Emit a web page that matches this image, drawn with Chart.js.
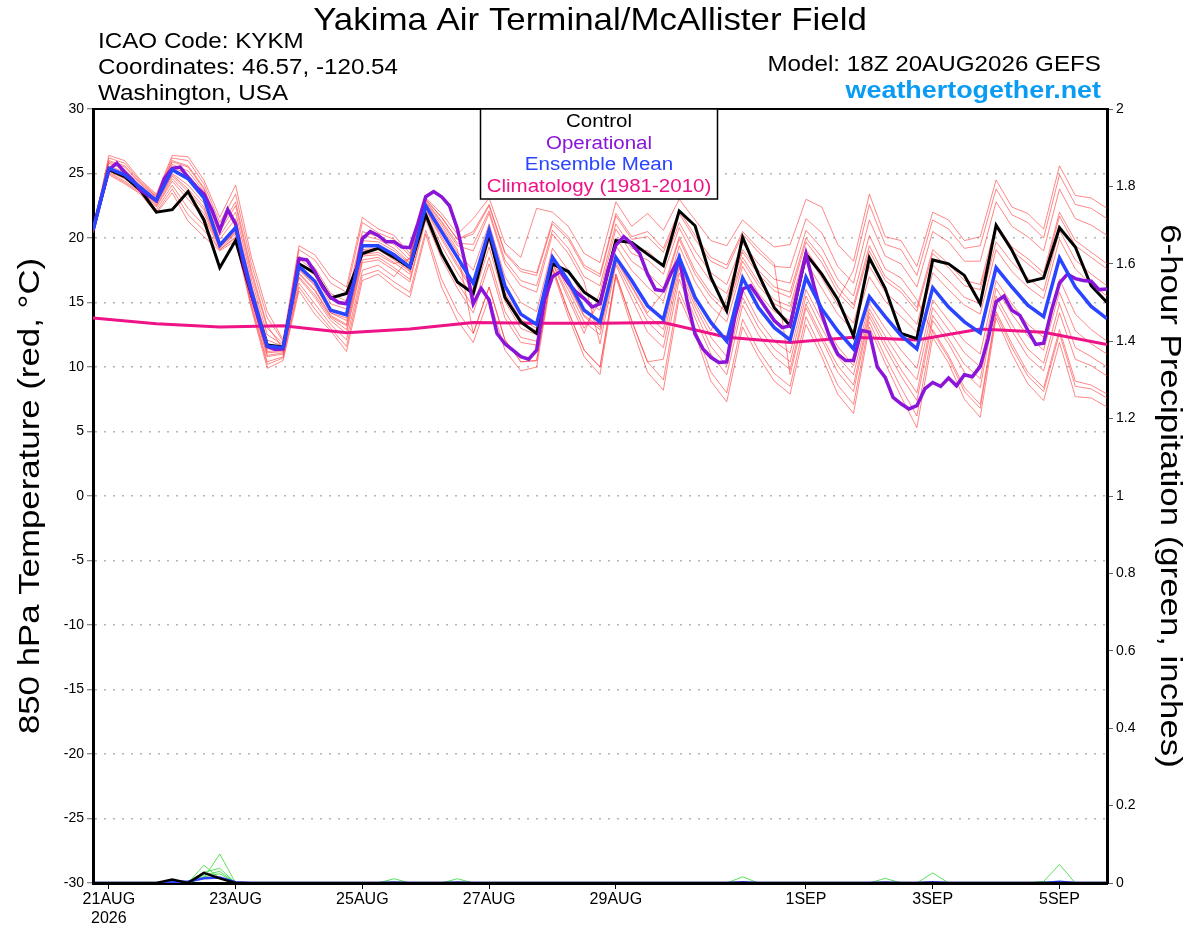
<!DOCTYPE html>
<html>
<head>
<meta charset="utf-8">
<title>Yakima GEFS meteogram</title>
<script src="https://cdn.jsdelivr.net/npm/chart.js@4.4.1/dist/chart.umd.min.js"></script>
<style>
  html, body { margin: 0; padding: 0; background: #fff; }
  #wrap { width: 1200px; height: 927px; position: relative; }
</style>
</head>
<body>
<div id="wrap"><canvas id="meteogram" width="1200" height="927"></canvas></div>
<script>
/* ================= DATA ================= */

// x axis: hours after 18Z 20AUG2026
const xTickHours  = [6, 54, 102, 150, 198, 270, 318, 366];
const xTickLabels = [['21AUG', '2026'], '23AUG', '25AUG', '27AUG', '29AUG', '1SEP', '3SEP', '5SEP'];

// 850 hPa temperature, 6-hourly (65 values)
const control = [20.6, 25.3, 24.75, 23.7, 22.0, 22.2, 23.6, 21.4, 17.7, 19.8, 15.6, 11.7, 11.55, 18.0, 17.3, 15.35,
  15.7, 18.8, 19.2, 18.5, 17.7, 21.8, 18.8, 16.6, 15.7, 20.3, 15.4, 13.5, 12.6, 18.0, 17.4, 15.8,
  15.0, 19.8, 19.65, 18.75, 17.85, 22.1, 20.95, 16.95, 14.35, 20.05, 17.2, 14.6, 13.2, 18.75, 17.2, 15.25,
  12.4, 18.45, 16.1, 12.6, 12.2, 18.3, 18.0, 17.1, 14.9, 21.0, 19.05, 16.6, 16.9, 20.8, 19.3, 16.3, 15.0];

const ensMean = [20.6, 25.4, 24.9, 23.9, 22.9, 25.3, 24.6, 23.1, 19.45, 20.8, 15.9, 11.6, 11.5, 17.8, 16.65, 14.4,
  14.05, 19.4, 19.4, 18.7, 17.75, 22.5, 20.5, 18.5, 16.5, 20.6, 16.3, 14.1, 13.3, 18.5, 16.7, 14.4,
  13.5, 18.5, 16.7, 14.75, 13.7, 18.5, 15.4, 13.45, 12.0, 16.9, 14.6, 13.05, 12.1, 16.95, 14.5, 12.8,
  11.4, 15.45, 13.9, 12.45, 11.4, 16.15, 14.65, 13.5, 12.65, 17.7, 16.2, 14.8, 13.9, 18.45, 16.2, 14.7, 13.75];

// operational run, 3-hourly (129 values)
const operational = [20.6, 23.0, 25.3, 25.8, 25.1, 24.5, 23.7, 23.3, 22.9, 24.6, 25.4, 25.5, 24.7, 24.0, 23.4, 22.2,
  20.6, 22.2, 21.1, 18.0, 15.7, 13.5, 11.6, 11.35, 11.4, 14.7, 18.4, 18.3, 17.4, 16.2, 15.4, 15.0,
  14.9, 16.7, 19.95, 20.5, 20.2, 19.7, 19.7, 19.3, 19.25, 21.1, 23.2, 23.6, 23.2, 22.5, 20.7, 18.0,
  14.9, 16.1, 15.2, 12.6, 11.8, 11.3, 10.8, 10.6, 11.3, 15.2, 17.0, 17.4, 16.5, 15.8, 15.3, 14.65,
  14.9, 17.5, 19.45, 20.1, 19.55, 18.8, 17.2, 16.0, 15.9, 17.3, 18.45, 15.1, 12.55, 11.4, 10.75, 10.35,
  10.4, 13.85, 16.05, 16.3, 15.4, 14.5, 13.6, 13.05, 13.2, 16.05, 18.75, 16.3, 14.1, 12.3, 11.0, 10.5,
  10.5, 12.85, 12.7, 10.0, 9.2, 7.65, 7.15, 6.75, 7.0, 8.3, 8.8, 8.5, 9.15, 8.55, 9.4, 9.25,
  10.05, 12.2, 15.05, 15.5, 14.4, 14.0, 12.85, 11.75, 11.85, 14.4, 16.5, 17.2, 16.85, 16.7, 16.65, 16.0, 16.05];

// 1981-2010 climatology, daily (17 values)
const climatology = [13.8, 13.35, 13.1, 13.2, 12.65, 12.95, 13.45, 13.4, 13.4, 13.45, 12.3, 11.9, 12.3, 12.1, 12.95, 12.7, 11.75];

// ensemble members, 6-hourly
const member01 = [20.5, 26.4, 26.0, 24.5, 23.4, 26.4, 26.3, 24.5, 21.6, 24.1, 18.5, 14.3, 12.1, 19.4, 18.7, 17.0,
  16.2, 21.6, 20.7, 20.2, 18.8, 23.1, 21.9, 20.3, 21.5, 23.1, 19.6, 18.5, 22.3, 22.0, 20.9, 18.8,
  18.1, 22.8, 20.9, 21.9, 20.6, 23.0, 21.4, 19.8, 19.4, 21.4, 20.3, 19.3, 19.5, 23.0, 22.4, 19.5,
  18.2, 23.4, 20.1, 19.8, 17.8, 22.0, 21.4, 19.8, 20.1, 24.5, 22.4, 21.9, 20.7, 25.6, 23.3, 23.1, 22.3];
const member02 = [20.5, 24.9, 24.2, 23.4, 21.9, 23.5, 21.3, 20.1, 19.0, 19.8, 14.5, 9.9, 10.5, 15.9, 14.1, 12.8,
  11.2, 16.7, 17.2, 16.2, 15.4, 20.3, 16.2, 13.6, 11.9, 15.4, 11.3, 9.7, 10.0, 17.5, 13.9, 10.8,
  9.4, 17.0, 13.1, 9.6, 8.2, 15.4, 12.6, 8.9, 7.3, 13.1, 10.8, 8.9, 7.9, 13.3, 10.8, 7.9,
  6.4, 13.1, 10.3, 7.7, 5.3, 12.3, 10.3, 7.5, 6.1, 13.8, 11.0, 8.7, 7.4, 11.9, 7.7, 7.6, 6.9];
const member03 = [20.6, 25.9, 25.5, 24.2, 23.2, 25.9, 25.5, 23.8, 20.5, 22.5, 17.2, 13.0, 11.8, 18.6, 17.7, 15.7,
  15.1, 20.5, 20.1, 19.5, 18.3, 22.8, 21.2, 19.4, 19.0, 21.9, 18.0, 16.3, 15.8, 20.3, 18.8, 16.6,
  11.8, 17.9, 15.3, 12.7, 11.5, 17.3, 14.3, 11.6, 10.1, 15.4, 13.1, 11.4, 10.4, 15.5, 13.0, 10.8,
  9.4, 14.5, 12.4, 10.5, 9.0, 14.6, 12.9, 11.1, 10.0, 16.1, 14.1, 12.4, 11.3, 15.8, 12.8, 11.8, 11.0];
const member04 = [20.4, 25.2, 24.6, 23.7, 22.4, 24.4, 23.0, 21.6, 19.2, 20.3, 15.2, 10.8, 11.0, 16.9, 15.4, 13.6,
  12.6, 18.1, 18.3, 17.5, 16.6, 21.4, 18.4, 16.1, 14.2, 18.0, 13.8, 11.9, 11.7, 18.0, 15.3, 12.6,
  15.8, 20.7, 18.8, 18.3, 17.2, 20.8, 18.4, 16.6, 15.7, 19.1, 17.5, 16.2, 15.8, 20.0, 18.5, 16.2,
  14.8, 19.4, 17.0, 16.1, 14.6, 19.1, 18.0, 16.7, 16.4, 21.1, 19.3, 18.4, 17.3, 22.0, 19.8, 18.9, 18.0];
const member05 = [20.6, 25.6, 25.1, 24.0, 23.0, 25.5, 24.9, 23.4, 19.9, 21.5, 16.4, 12.1, 11.6, 18.1, 17.1, 14.9,
  14.5, 19.8, 19.7, 19.0, 18.0, 22.6, 20.8, 18.9, 17.5, 21.1, 17.0, 15.0, 14.3, 19.2, 17.5, 15.3,
  14.4, 19.4, 17.5, 16.2, 15.1, 19.4, 16.6, 14.7, 13.5, 17.8, 15.7, 14.3, 13.6, 18.2, 16.1, 14.1,
  12.8, 17.0, 15.1, 13.9, 12.7, 17.3, 16.0, 14.8, 14.1, 19.1, 17.4, 16.2, 15.3, 19.9, 17.6, 16.4, 15.5];
const member06 = [20.5, 25.3, 24.7, 23.8, 22.7, 24.9, 23.8, 22.4, 19.3, 20.6, 15.6, 11.2, 11.3, 17.3, 16.0, 14.0,
  13.3, 18.7, 18.9, 18.1, 17.2, 22.0, 19.4, 17.3, 15.4, 19.3, 15.1, 13.0, 12.5, 18.3, 16.0, 13.5,
  12.5, 18.1, 15.8, 13.5, 12.3, 17.7, 14.7, 12.3, 10.8, 16.0, 13.6, 12.0, 11.1, 16.0, 13.6, 11.6,
  10.1, 14.9, 13.0, 11.3, 9.9, 15.2, 13.6, 12.0, 11.0, 16.7, 14.9, 13.3, 12.3, 16.8, 14.1, 12.9, 12.0];
const member07 = [20.5, 25.1, 24.4, 23.6, 22.2, 24.1, 22.3, 21.0, 19.1, 20.1, 14.9, 10.4, 10.8, 16.5, 14.9, 13.3,
  12.1, 17.5, 17.9, 17.0, 18.5, 23.0, 21.6, 19.9, 20.3, 22.5, 18.8, 17.4, 17.1, 21.1, 19.9, 17.7,
  17.0, 21.7, 19.9, 20.1, 18.9, 21.9, 19.9, 18.2, 17.6, 20.3, 18.9, 17.8, 17.7, 21.5, 20.4, 17.8,
  16.5, 21.4, 18.6, 18.0, 16.2, 20.5, 19.7, 18.2, 18.2, 22.8, 20.9, 20.1, 19.0, 23.8, 21.5, 21.0, 20.2];
const member08 = [20.7, 26.2, 25.8, 24.4, 23.3, 26.2, 26.0, 24.2, 21.2, 23.4, 18.0, 13.8, 12.0, 19.1, 18.3, 16.5,
  15.8, 21.2, 20.4, 19.9, 18.6, 23.0, 21.6, 19.9, 20.5, 22.6, 18.9, 17.6, 17.3, 21.3, 20.1, 17.9,
  17.2, 21.9, 20.1, 20.5, 19.2, 22.1, 20.2, 18.5, 17.9, 20.5, 19.2, 18.0, 9.4, 14.6, 12.1, 9.6,
  8.1, 13.9, 11.5, 9.3, 7.4, 13.6, 11.8, 9.6, 8.4, 15.1, 12.8, 10.8, 9.7, 14.2, 10.6, 10.1, 9.3];
const member09 = [20.6, 25.8, 25.3, 24.1, 23.1, 25.7, 25.2, 23.6, 20.2, 22.0, 16.8, 12.5, 11.7, 18.4, 17.4, 15.3,
  14.8, 20.2, 19.9, 19.2, 18.1, 22.7, 21.0, 19.1, 12.6, 16.2, 12.1, 10.4, 10.5, 17.7, 14.3, 11.3,
  10.0, 17.2, 13.6, 10.4, 9.0, 15.9, 13.0, 9.6, 8.0, 13.7, 11.3, 9.5, 8.5, 13.9, 11.3, 8.6,
  7.1, 13.5, 10.8, 8.4, 6.2, 12.9, 10.9, 8.4, 7.1, 14.3, 11.8, 9.6, 8.4, 12.9, 8.9, 8.6, 7.9];
const member10 = [20.6, 25.3, 24.8, 23.8, 22.8, 25.0, 24.1, 22.7, 19.4, 20.7, 15.7, 11.4, 11.4, 17.5, 16.3, 14.2,
  13.6, 19.0, 19.1, 18.3, 17.4, 22.2, 19.9, 17.8, 15.8, 19.8, 15.6, 13.4, 12.8, 18.4, 16.3, 13.9,
  12.9, 18.3, 16.2, 14.0, 12.9, 18.0, 15.0, 12.8, 15.3, 18.9, 17.2, 15.9, 15.4, 19.7, 18.1, 15.8,
  14.5, 19.0, 16.7, 15.8, 14.3, 18.8, 17.7, 16.3, 16.0, 20.8, 19.0, 18.0, 17.0, 21.7, 19.4, 18.5, 17.6];
const member11 = [20.5, 25.2, 24.6, 23.7, 22.5, 24.6, 23.3, 21.9, 19.3, 20.4, 15.3, 10.9, 11.1, 17.0, 15.6, 13.8,
  12.9, 18.3, 18.5, 17.7, 16.8, 21.6, 18.8, 16.5, 14.7, 18.5, 14.3, 12.3, 12.0, 18.1, 15.6, 13.0,
  15.1, 20.0, 18.2, 17.3, 16.1, 20.1, 17.5, 15.7, 14.6, 18.5, 16.6, 15.2, 14.7, 19.1, 17.3, 15.2,
  17.5, 22.6, 19.5, 19.1, 17.1, 21.4, 20.7, 19.2, 19.4, 23.8, 21.8, 21.2, 20.0, 24.9, 22.6, 22.3, 21.5];
const member12 = [20.6, 26.0, 25.6, 24.3, 23.2, 26.0, 25.6, 23.9, 20.7, 22.8, 17.5, 13.2, 11.4, 17.6, 16.4, 14.2,
  13.8, 19.1, 19.2, 18.5, 17.5, 22.3, 20.1, 18.0, 16.0, 20.1, 15.8, 13.7, 13.0, 18.4, 16.4, 14.0,
  13.1, 18.4, 16.3, 14.2, 15.8, 19.9, 17.2, 15.4, 14.2, 18.2, 16.3, 14.9, 14.3, 18.8, 16.9, 14.8,
  13.4, 17.8, 15.8, 14.7, 13.3, 17.9, 16.7, 15.4, 14.9, 19.7, 18.1, 16.9, 15.9, 20.6, 18.3, 17.2, 16.3];
const member13 = [20.4, 25.0, 24.3, 23.5, 22.0, 23.8, 21.8, 20.6, 19.1, 20.0, 14.7, 10.2, 10.7, 16.2, 14.5, 13.0,
  11.6, 17.1, 17.5, 16.6, 15.8, 20.6, 16.8, 14.3, 12.6, 16.2, 12.1, 10.4, 10.5, 17.7, 14.3, 11.3,
  10.0, 17.2, 13.6, 10.4, 10.6, 16.8, 13.8, 11.0, 9.4, 14.8, 12.5, 10.8, 9.8, 14.9, 12.4, 10.1,
  8.6, 14.2, 11.9, 9.8, 8.0, 14.0, 12.2, 10.2, 9.1, 15.5, 13.3, 11.4, 10.3, 14.9, 11.5, 10.8, 10.0];
const member14 = [20.5, 25.3, 24.7, 23.8, 22.6, 24.8, 23.6, 22.2, 19.3, 20.5, 15.5, 11.1, 11.2, 17.2, 15.9, 13.9,
  13.2, 18.6, 18.7, 18.0, 18.4, 22.9, 21.3, 19.6, 19.5, 22.1, 18.3, 16.7, 16.3, 20.6, 19.2, 17.0,
  16.3, 21.1, 19.2, 19.0, 17.8, 21.2, 19.0, 17.3, 16.4, 19.6, 18.0, 16.8, 16.5, 20.6, 19.2, 16.8,
  15.5, 20.2, 17.6, 16.9, 15.2, 12.7, 10.7, 8.1, 6.8, 14.1, 11.5, 9.3, 8.1, 12.6, 8.5, 8.3, 7.6];

// 6-hour precipitation (inches), 6-hourly
const ctrlPrecip = [0, 0, 0, 0, 0, 0.009, 0, 0.026, 0.012, 0, 0, 0, 0, 0, 0, 0,
  0, 0, 0, 0, 0, 0, 0, 0, 0, 0, 0, 0, 0, 0, 0, 0,
  0, 0, 0, 0, 0, 0, 0, 0, 0, 0, 0, 0, 0, 0, 0, 0,
  0, 0, 0, 0, 0, 0, 0, 0, 0, 0, 0, 0, 0, 0, 0, 0, 0];
const meanPrecip = [0, 0, 0, 0, 0, 0.002, 0.004, 0.012, 0.014, 0.002, 0, 0, 0, 0, 0, 0,
  0, 0, 0, 0.001, 0, 0, 0, 0.001, 0, 0, 0, 0, 0, 0, 0, 0,
  0, 0, 0, 0, 0, 0, 0, 0, 0, 0.002, 0, 0, 0, 0, 0, 0,
  0, 0, 0.001, 0, 0, 0.002, 0, 0, 0, 0, 0, 0, 0, 0.003, 0, 0, 0];
const precipMember1 = [0, 0, 0, 0, 0, 0, 0, 0.046, 0.012, 0, 0, 0, 0, 0, 0, 0,
  0, 0, 0, 0, 0, 0, 0, 0, 0, 0, 0, 0, 0, 0, 0, 0,
  0, 0, 0, 0, 0, 0, 0, 0, 0, 0.016, 0, 0, 0, 0, 0, 0,
  0, 0, 0, 0, 0, 0, 0, 0, 0, 0, 0, 0, 0, 0, 0, 0, 0];
const precipMember2 = [0, 0, 0, 0, 0, 0, 0, 0.012, 0.075, 0, 0, 0, 0, 0, 0, 0,
  0, 0, 0, 0, 0, 0, 0, 0, 0, 0, 0, 0, 0, 0, 0, 0,
  0, 0, 0, 0, 0, 0, 0, 0, 0, 0, 0, 0, 0, 0, 0, 0,
  0, 0, 0, 0, 0, 0, 0, 0, 0, 0, 0, 0, 0.004, 0.048, 0, 0, 0];
const precipMember3 = [0, 0, 0, 0, 0, 0, 0.004, 0.028, 0.038, 0, 0, 0, 0, 0, 0, 0,
  0, 0, 0, 0, 0, 0, 0, 0, 0, 0, 0, 0, 0, 0, 0, 0,
  0, 0, 0, 0, 0, 0, 0, 0, 0, 0, 0, 0, 0, 0, 0, 0,
  0, 0, 0, 0, 0, 0.026, 0, 0, 0, 0, 0, 0, 0, 0, 0, 0, 0];
const precipMember4 = [0, 0, 0, 0, 0, 0, 0, 0.02, 0.03, 0, 0, 0, 0, 0, 0, 0,
  0, 0, 0, 0.011, 0, 0, 0, 0, 0, 0, 0, 0, 0, 0, 0, 0,
  0, 0, 0, 0, 0, 0, 0, 0, 0, 0, 0, 0, 0, 0, 0, 0,
  0, 0, 0.012, 0, 0, 0, 0, 0, 0, 0, 0, 0, 0, 0, 0, 0, 0];
const precipMember5 = [0, 0, 0, 0, 0, 0, 0, 0.016, 0.024, 0, 0, 0, 0, 0, 0, 0,
  0, 0, 0, 0, 0, 0, 0, 0.011, 0, 0, 0, 0, 0, 0, 0, 0,
  0, 0, 0, 0, 0, 0, 0, 0, 0, 0, 0, 0, 0, 0, 0, 0,
  0, 0, 0, 0, 0, 0, 0, 0, 0, 0, 0, 0, 0.003, 0, 0, 0, 0];

/* ================= HELPERS ================= */

const FONT = '"Liberation Sans", Arial, Helvetica, sans-serif';

// pair values with their forecast hour
const withHours = (vals, step) => vals.map((v, i) => ({ x: i * step, y: v }));

const line = (label, vals, step, color, width, order, axis) => ({
  label,
  data: withHours(vals, step),
  borderColor: color,
  borderWidth: width,
  pointRadius: 0,
  tension: 0,
  fill: false,
  order,
  yAxisID: axis || 'y'
});

const members = [member01, member02, member03, member04, member05, member06, member07,
  member08, member09, member10, member11, member12, member13, member14];
const precipMembers = [precipMember1, precipMember2, precipMember3, precipMember4, precipMember5];

// the original's type is a touch wider than Liberation Sans, so stretch it a little
function text(ctx, str, x, y, font, color, align, stretch, rot) {
  ctx.save();
  ctx.translate(x, y);
  if (rot) ctx.rotate(rot);
  ctx.scale(stretch || 1, 1);
  ctx.font = font;
  ctx.fillStyle = color;
  ctx.textAlign = align;
  ctx.fillText(str, 0, 0);
  ctx.restore();
}

/* ================= DECORATION PLUGIN ================= */

const decor = {
  id: 'decor',
  afterDraw(chart) {
    const { ctx, chartArea: a } = chart;
    const midY = (a.top + a.bottom) / 2;
    ctx.save();
    ctx.textBaseline = 'alphabetic';

    // top frame line
    ctx.strokeStyle = '#000';
    ctx.lineWidth = 2;
    ctx.beginPath();
    ctx.moveTo(a.left, a.top);
    ctx.lineTo(a.right, a.top);
    ctx.stroke();

    text(ctx, 'Yakima Air Terminal/McAllister Field', 590, 30, '32px ' + FONT, '#000', 'center', 1.09);

    text(ctx, 'ICAO Code: KYKM', 98, 48, '22px ' + FONT, '#000', 'left', 1.1);
    text(ctx, 'Coordinates: 46.57, -120.54', 98, 74, '22px ' + FONT, '#000', 'left', 1.1);
    text(ctx, 'Washington, USA', 98, 100, '22px ' + FONT, '#000', 'left', 1.1);

    text(ctx, 'Model: 18Z 20AUG2026 GEFS', 1101, 71, '22px ' + FONT, '#000', 'right', 1.1);
    text(ctx, 'weathertogether.net', 1101, 98, 'bold 24px ' + FONT, '#0a9cf5', 'right', 1.12);

    // legend box
    ctx.fillStyle = '#fff';
    ctx.fillRect(480, a.top, 238, 90);
    ctx.strokeStyle = '#000';
    ctx.lineWidth = 1.5;
    ctx.strokeRect(480.5, a.top, 237, 90);
    const legend = [['Control', '#000'], ['Operational', '#8a14d8'], ['Ensemble Mean', '#2a44ff'], ['Climatology (1981-2010)', '#ee1487']];
    legend.forEach(([txt, col], i) => {
      text(ctx, txt, 599, 127 + i * 21.7, '18px ' + FONT, col, 'center', 1.14);
    });

    // axis titles
    ctx.textBaseline = 'middle';
    text(ctx, '850 hPa Temperature (red, \u00B0C)', 31, midY, '30px ' + FONT, '#000', 'center', 1.16, -Math.PI / 2);
    text(ctx, '6-hour Precipitation (green, inches)', 1169, midY, '30px ' + FONT, '#000', 'center', 1.16, Math.PI / 2);

    ctx.restore();
  }
};

/* ================= CHART ================= */

const datasets = [
  line('Ensemble Mean', ensMean, 6, '#2a44ff', 3.5, 1),
  line('Operational', operational, 3, '#8a14d8', 3.5, 2),
  line('Control', control, 6, '#000000', 3, 3),
  line('Climatology', climatology, 24, '#ee1487', 3, 4),
  line('Control precip', ctrlPrecip, 6, '#000000', 2.5, 5, 'y2'),
  line('Mean precip', meanPrecip, 6, '#2a44ff', 2.5, 5, 'y2'),
  ...precipMembers.map((p, i) => line('Precip member ' + (i + 1), p, 6, 'rgba(40,215,40,0.85)', 0.9, 6, 'y2')),
  ...members.map((m, i) => line('Member ' + (i + 1), m, 6, 'rgba(255,60,60,0.72)', 0.85, 7))
];

new Chart(document.getElementById('meteogram'), {
  type: 'line',
  data: { datasets },
  options: {
    responsive: false,
    animation: false,
    devicePixelRatio: 1,
    layout: { padding: { top: 109, left: 0, right: 0, bottom: 0 } },
    plugins: { legend: { display: false }, tooltip: { enabled: false }, title: { display: false } },
    scales: {
      x: {
        type: 'linear',
        min: 0,
        max: 384,
        afterBuildTicks: s => { s.ticks = xTickHours.map(v => ({ value: v })); },
        afterFit: s => { s.height = 44; },
        ticks: {
          autoSkip: false,
          maxRotation: 0,
          padding: 1,
          color: '#000',
          font: { family: FONT, size: 16 },
          callback: v => xTickLabels[xTickHours.indexOf(v)]
        },
        grid: { drawOnChartArea: false, drawTicks: true, tickColor: '#000', tickLength: 6, tickWidth: 1 },
        border: { display: true, color: '#000', width: 3 }
      },
      y: {
        position: 'left',
        min: -30,
        max: 30,
        afterFit: s => { s.width = 93; },
        ticks: { stepSize: 5, padding: 3, color: '#000', font: { family: FONT, size: 14 } },
        grid: {
          color: c => (c.tick && Math.abs(c.tick.value) === 30) ? 'rgba(0,0,0,0)' : '#b4b4b4',
          lineWidth: 1.5,
          tickColor: '#666',
          tickLength: 6,
          tickWidth: 1
        },
        border: { display: true, color: '#000', width: 3, dash: [2, 7] }
      },
      y2: {
        position: 'right',
        min: 0,
        max: 2,
        afterFit: s => { s.width = 93; },
        ticks: {
          stepSize: 0.2,
          padding: 3,
          color: '#000',
          font: { family: FONT, size: 14 },
          callback: v => String(+v.toFixed(1))
        },
        grid: { drawOnChartArea: false, tickColor: '#666', tickLength: 6, tickWidth: 1 },
        border: { display: true, color: '#000', width: 3 }
      }
    }
  },
  plugins: [decor]
});
</script>
</body>
</html>
